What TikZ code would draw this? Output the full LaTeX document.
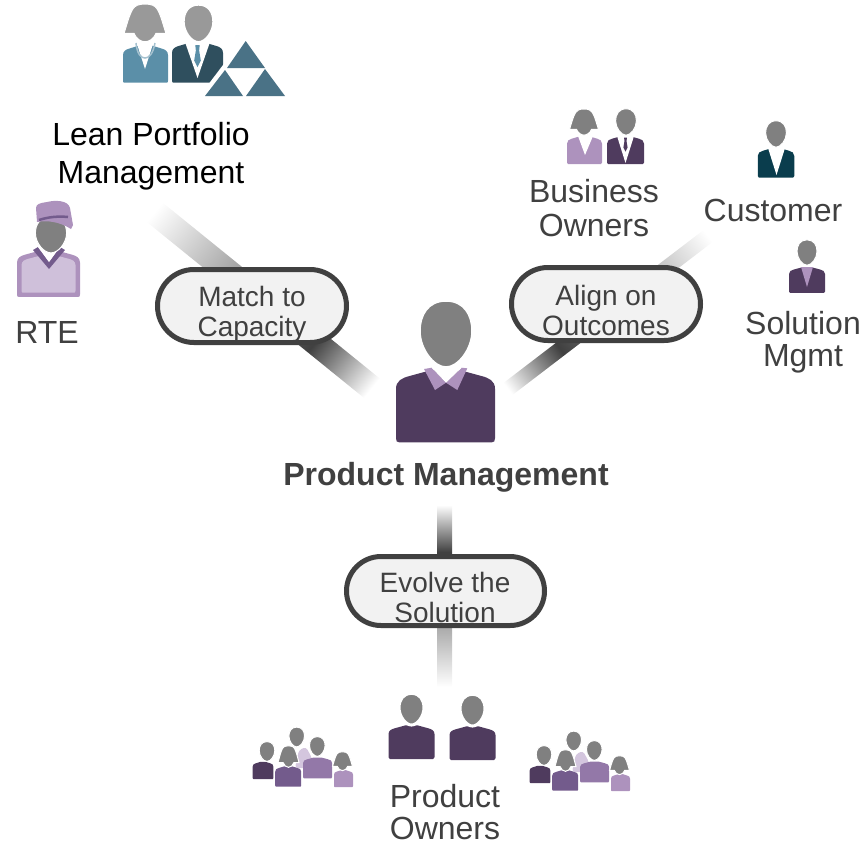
\documentclass[tikz,border=0pt]{standalone}
\usepackage{fontspec}
\setmainfont{Liberation Sans}
\usetikzlibrary{shapes.misc}
\definecolor{plumdark}{HTML}{4F3B5E}
\definecolor{plummid}{HTML}{735B8C}
\definecolor{plumsoft}{HTML}{9378A8}
\definecolor{lavender}{HTML}{AD92BD}
\definecolor{lavenderpale}{HTML}{CFC0DA}
\definecolor{lavenderback}{HTML}{D4C6DE}
\definecolor{headgray}{HTML}{808080}
\definecolor{headpale}{HTML}{999999}
\definecolor{tealblue}{HTML}{5B8FA8}
\definecolor{tealdark}{HTML}{2F4F5E}
\definecolor{tealmid}{HTML}{4A7286}
\definecolor{tealdeep}{HTML}{0A3D4D}
\definecolor{inkgray}{HTML}{404040}
\pgfdeclarehorizontalshading{barfade}{100bp}{color(0bp)=(white); color(25bp)=(white); color(38bp)=(inkgray); color(75bp)=(white); color(100bp)=(white)}
\newcommand{\fadebar}[5]{
    \begin{scope}[shift={(#1,#2)}]
        \clip[rotate=#3] (-#4,-#5) rectangle (#4,#5);
        \shade[shading=barfade, shading angle=#3] (-#4,-#4) rectangle (#4,#4);
    \end{scope}
}
\tikzset{
pill/.style={shape=rounded rectangle, draw=inkgray, fill=black!5, line width=5pt, minimum width=189pt, minimum height=73pt, inner sep=0pt},
pilltext/.style={align=center, text=inkgray, font=\fontsize{28}{30}\selectfont},
rolelabel/.style={align=center, text=inkgray, font=\fontsize{32}{34}\selectfont},
pics/bust/.style={code={
    \fill[#1] (-47,74) .. controls (-49,74) and (-50,73) .. (-50,70) -- (-50,20) .. controls (-50,12) and (-44,9) .. (-36,7) -- (-14,1) -- (14,1) -- (36,7) .. controls (44,9) and (50,12) .. (50,20) -- (50,70) .. controls (50,73) and (49,74) .. (47,74) -- cycle;
}},
pics/egghead/.style 2 args={code={
    \path[fill=#1, draw=white, line width=#2] (0,-68) .. controls (-18,-68) and (-26,-54) .. (-26,-38) .. controls (-26,-20) and (-12,-2) .. (0,-2) .. controls (12,-2) and (26,-20) .. (26,-38) .. controls (26,-54) and (18,-68) .. (0,-68) -- cycle;
}},
pics/hairdo/.style 2 args={code={
    \path[fill=#1, draw=white, line width=#2] (0,0) .. controls (-16,0) and (-24,4) .. (-29,12) .. controls (-37,24) and (-44,52) .. (-50,70) -- (-26,70) .. controls (-22,82) and (-10,90) .. (0,90) .. controls (10,90) and (22,82) .. (26,70) -- (50,70) .. controls (44,52) and (37,24) .. (29,12) .. controls (24,4) and (16,0) .. (0,0) -- cycle;
}},
pics/necktie/.style={code={
    \fill[#1] (-4,2) -- (4,2) -- (3,12) -- (6,30) -- (0,42) -- (-6,30) -- (-3,12) -- cycle;
}},
pics/team/.style={code={
    \fill[lavenderback, rounded corners=3pt] (55,88) -- (59,70) -- (66,67) -- (72,78) -- (72,88) -- cycle;
    \pic[scale=.3] at (56.7,67.5) {egghead={headgray}{1pt}};
    \pic[xscale=.206, yscale=.235] at (23,81.7) {bust=plumdark};
    \pic[scale=.3] at (27,82) {egghead={headgray}{1pt}};
    \pic[xscale=.29, yscale=.285] at (77.6,77.3) {bust=plumsoft};
    \pic[scale=.3] at (77.3,77) {egghead={headgray}{1pt}};
    \pic[xscale=.26, yscale=.28] at (48.2,86) {bust=plummid};
    \pic[xscale=.21, yscale=.24] at (48.5,65.7) {hairdo={headgray}{1pt}};
    \pic[xscale=.19, yscale=.23] at (103.5,90) {bust=lavender};
    \pic[xscale=.2, yscale=.21] at (102.5,71.7) {hairdo={headgray}{1pt}};
}}
}
\begin{document}
\begin{tikzpicture}[x=1pt, y=-1pt]

    \useasboundingbox (0,0) rectangle (866,847);

    % fading bars behind the pills
    \fadebar{263}{300}{141}{140.5}{12.5}
    \fadebar{608}{312.5}{37.4}{126}{7.5}
    \fadebar{444.5}{596}{-90}{91}{7.5}

    \node[pill] (capacity) at (252,306) {};
    \node[pill] (outcomes) at (606,304) {};
    \node[pill, minimum width=198pt, minimum height=69pt] (solution) at (445.5,591) {};
    \node[pilltext] (capacitytext) at (252,314) {Match to\\Capacity};
    \node[pilltext] (outcomestext) at (606,310) {Align on\\Outcomes};
    \node[pilltext] (solutiontext) at (445,597) {Evolve the\\Solution};

    % lean portfolio people
    \pic[xscale=.45, yscale=.51] at (145.5,45) {bust=tealblue};
    \fill[white] (137,44) -- (145,69) -- (153,44) -- cycle;
    \draw[tealblue!55, line width=1.5pt] (136,43) .. controls (137,54) and (141,58) .. (145,58) .. controls (149,58) and (153,54) .. (155,43);
    \pic[xscale=.42, yscale=.42] at (145,4) {hairdo={headpale}{1pt}};
    \pic[xscale=.51, yscale=.55] at (197.5,42) {bust=tealdark};
    \fill[white] (185,42) -- (197.5,78) -- (210,42) -- cycle;
    \pic[scale=.55] at (197.5,44) {necktie=tealblue};
    \pic[scale=.56] at (198.5,43) {egghead={headpale}{1.5pt}};
    \fill[white] (245,36) -- (198,98) -- (292,98) -- cycle;
    \fill[tealmid] (245.7,41) -- (227,68) -- (265,68) -- cycle;
    \fill[tealmid] (225,70) -- (205,96) -- (243,96) -- cycle;
    \fill[tealmid] (265,69) -- (246,96) -- (285,96) -- cycle;
    \node[rolelabel, text=black, font=\fontsize{32}{38}\selectfont] (portfolio) at (151,156) {Lean Portfolio\\Management};

    % release train engineer
    \pic[xscale=.63, yscale=.635] at (48.5,250) {bust=lavender};
    \pic[xscale=.54, yscale=.51] at (48.5,255) {bust=lavenderpale};
    \fill[plummid] (33,250) -- (38,247) -- (49,262) -- (60,247) -- (65,250) -- (49,269) -- cycle;
    \fill[white] (38,247) -- (49,262) -- (60,247) -- cycle;
    \pic[xscale=.6, yscale=.55] at (51,254) {egghead={headgray}{1pt}};
    \fill[lavender] (37,222) -- (36,208) .. controls (36,204) and (40,203) .. (47,202) .. controls (55,200) and (68,200) .. (70,208) -- (73,225) -- (71,229) .. controls (60,222) and (48,220) .. (37,222) -- cycle;
    \draw[plummid, line width=2.5pt] (39,220) .. controls (48,217) and (58,216) .. (68,217);
    \node[rolelabel] (rte) at (47,332) {RTE};

    % business owners
    \pic[xscale=.35, yscale=.38] at (584.5,136) {bust=lavender};
    \fill[white] (578,136) -- (585,155) -- (593,136) -- cycle;
    \pic[xscale=.29, yscale=.29] at (584,109) {hairdo={headgray}{1pt}};
    \pic[xscale=.37, yscale=.38] at (625.5,136) {bust=plumdark};
    \fill[white] (617,136) -- (625.5,163) -- (634,136) -- cycle;
    \pic[scale=.35] at (625.5,137) {necktie=plumdark};
    \pic[scale=.4] at (626,136) {egghead={headgray}{1pt}};
    \node[rolelabel] (owners) at (594,208) {Business\\Owners};

    % customer
    \pic[xscale=.365, yscale=.4] at (776,148) {bust=tealdeep};
    \fill[white] (768,148) -- (776.5,175) -- (785,148) -- cycle;
    \pic[scale=.4] at (776,148) {egghead={headgray}{1pt}};
    \node[rolelabel] (customer) at (773,210) {Customer};

    % solution management
    \pic[xscale=.36, yscale=.35] at (807,267) {bust=plumdark};
    \fill[lavender] (801,267) -- (807,287) -- (813,267) -- cycle;
    \pic[scale=.385] at (807,266) {egghead={headgray}{1pt}};
    \node[rolelabel, font=\fontsize{32}{32}\selectfont] (solutionmgmt) at (803,342) {Solution\\Mgmt};

    % product management
    \pic[scale=.99] at (445.5,369) {bust=plumdark};
    \fill[lavender] (424,369) -- (431.7,367.7) -- (446,382.7) -- (435,390) -- cycle;
    \fill[lavender] (461.7,367.7) -- (467.3,368.3) -- (457.3,390) -- (446,382.7) -- cycle;
    \fill[white] (431.7,367.7) -- (446,382.7) -- (461.7,367.7) -- cycle;
    \pic at (446,369) {egghead={headgray}{1.5pt}};
    \node[rolelabel, font=\fontsize{32}{34}\bfseries\selectfont] (management) at (446,477) {Product Management};

    % product owners and their teams
    \pic[scale=.46] at (411.5,725) {bust=plumdark};
    \pic[scale=.48] at (411.5,726) {egghead={headgray}{3pt}};
    \pic[scale=.46] at (472.5,726) {bust=plumdark};
    \pic[scale=.48] at (472.5,727) {egghead={headgray}{3pt}};
    \pic at (240,680) {team};
    \pic at (517,684) {team};
    \node[rolelabel, font=\fontsize{32}{32}\selectfont] (productowners) at (445,812) {Product\\Owners};

\end{tikzpicture}
\end{document}
